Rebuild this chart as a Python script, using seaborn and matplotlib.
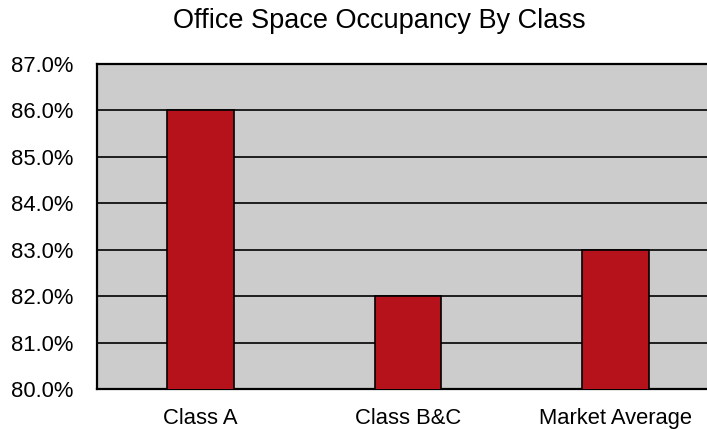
import matplotlib
matplotlib.use("Agg")

import matplotlib.pyplot as plt
import seaborn as sns
import pandas as pd
from matplotlib.ticker import PercentFormatter

categories = ["Class A", "Class B&C", "Market Average"]
occupancy = [86.0, 82.0, 83.0]
title = "Office Space Occupancy By Class"

df = pd.DataFrame({"cls": categories, "occ": occupancy})

sns.set_theme(style="white")
plt.rcParams["font.family"] = ["Liberation Sans", "DejaVu Sans"]

fig = plt.figure(figsize=(7.07, 4.29), dpi=100)
# plot area runs past the right edge of the image, as in the original
ax = fig.add_axes([97 / 707, 1 - 389 / 429, (719 - 97) / 707, (389 - 64) / 429])
ax.set_facecolor("#CCCCCC")

sns.barplot(data=df, x="cls", y="occ", ax=ax, color="#B5121B", saturation=1,
            width=0.32, edgecolor="black", linewidth=1.2, zorder=3)

ax.set_ylim(80, 87)
ax.set_yticks(range(80, 88))
ax.yaxis.set_major_formatter(PercentFormatter(decimals=1))
ax.grid(axis="y", color="black", linewidth=1.2, zorder=1)
ax.set_axisbelow(True)
for s in ax.spines.values():
    s.set_color("black")
    s.set_linewidth(1.6)

ax.tick_params(axis="y", length=0, pad=17, labelsize=15.8, labelcolor="black")
ax.tick_params(axis="x", length=0, pad=13.5, labelsize=15.8, labelcolor="black")
ax.set_xlabel("")
ax.set_ylabel("")
fig.text(379 / 707, 1 - 28.5 / 429, title, ha="center", va="baseline",
         fontsize=19.5, color="black")

fig.savefig("out.png", dpi=100)
plt.close(fig)
